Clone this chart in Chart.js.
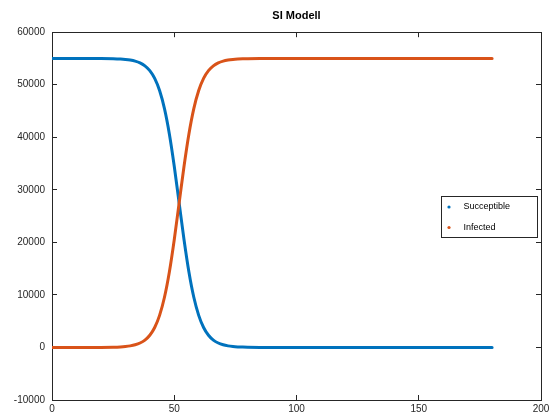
<!DOCTYPE html>
<html>
<head>
<meta charset="utf-8">
<script src="https://cdn.jsdelivr.net/npm/chart.js@4.4.0/dist/chart.umd.min.js"></script>
<style>
    html, body { margin: 0; padding: 0; background: #fff; }
    #wrap { width: 560px; height: 420px; }
</style>
</head>
<body>
<div id="wrap"><canvas id="siChart" width="560" height="420"></canvas></div>
<script>
// values
const days = [0, 10, 20, 25, 28, 30, 32, 34, 36, 38, 40, 42, 44, 46, 48, 50, 52, 54, 56, 58,
    60, 62, 64, 66, 68, 70, 72, 74, 76, 78, 80, 85, 90, 100, 120, 140, 160, 180];
const susceptible = [55000, 54998, 54987, 54951, 54893, 54820, 54698, 54494, 54155, 53593,
    52674, 51197, 48892, 45450, 40636, 34493, 27500, 20507, 14364, 9550,
    6108, 3803, 2326, 1407, 845, 506, 302, 180, 107, 64, 38, 10, 3, 0, 0, 0, 0, 0];
const infected = [0, 2, 13, 49, 107, 180, 302, 506, 845, 1407,
    2326, 3803, 6108, 9550, 14364, 20507, 27500, 34493, 40636, 45450,
    48892, 51197, 52674, 53593, 54155, 54494, 54698, 54820, 54893, 54936, 54962, 54990, 54997,
    55000, 55000, 55000, 55000, 55000];
const seriesNames = ["Succeptible", "Infected"];
const seriesColors = ["#0072BD", "#D95319"];
const xTicks = [0, 50, 100, 150, 200];
const yTicks = [-10000, 0, 10000, 20000, 30000, 40000, 50000, 60000];

const axisColor = "#262626";
const fontFamily = "'Liberation Sans', Arial, Helvetica, sans-serif";

const toPoints = (values) => days.map((d, i) => ({x: d, y: values[i]}));

// legend box drawn inside the axes, "east" location like Octave
const legendBox = {
    id: "legendBox",
    afterDraw(chart) {
        const {ctx, chartArea} = chart;
        const w = 96, h = 41;
        const x = Math.round(chartArea.right - 4 - w) + 0.5;
        const y = Math.round((chartArea.top + chartArea.bottom) / 2 - h / 2) + 0.5;
        ctx.save();
        ctx.fillStyle = "#fff";
        ctx.fillRect(x, y, w, h);
        ctx.strokeStyle = axisColor;
        ctx.lineWidth = 1;
        ctx.strokeRect(x, y, w, h);
        ctx.font = "9px " + fontFamily;
        ctx.textBaseline = "middle";
        chart.data.datasets.forEach((ds, i) => {
            const rowY = y + 10.5 + i * 20.5;
            ctx.fillStyle = ds.borderColor;
            ctx.beginPath();
            ctx.arc(x + 7.5, rowY, 1.6, 0, Math.PI * 2);
            ctx.fill();
            ctx.fillStyle = "#000";
            ctx.fillText(ds.label, x + 22, rowY);
        });
        ctx.restore();
    }
};

const fixedTicks = (list) => (scale) => {
    scale.ticks = list.map(v => ({value: v}));
};

const plainLabel = (value) => String(value);

const innerGrid = {
    drawOnChartArea: false,
    drawTicks: true,
    tickLength: -5,
    color: axisColor,
    lineWidth: 1
};

new Chart(document.getElementById("siChart"), {
    type: "scatter",
    data: {
        datasets: [
            {
                label: seriesNames[0],
                data: toPoints(susceptible),
                borderColor: seriesColors[0],
                backgroundColor: seriesColors[0],
                showLine: true,
                borderWidth: 3,
                borderCapStyle: "round",
                pointRadius: 0,
                cubicInterpolationMode: "monotone",
                order: 1
            },
            {
                label: seriesNames[1],
                data: toPoints(infected),
                borderColor: seriesColors[1],
                backgroundColor: seriesColors[1],
                showLine: true,
                borderWidth: 3,
                borderCapStyle: "round",
                pointRadius: 0,
                cubicInterpolationMode: "monotone",
                order: 0
            }
        ]
    },
    options: {
        responsive: false,
        animation: false,
        devicePixelRatio: 1,
        layout: {padding: {left: 0, right: 19, top: 0, bottom: 0}},
        plugins: {
            legend: {display: false},
            tooltip: {enabled: false},
            title: {
                display: true,
                text: "SI Modell",
                fullSize: false,
                color: "#000",
                font: {family: fontFamily, size: 11, weight: "bold"},
                padding: {top: 9, bottom: 10}
            }
        },
        scales: {
            x: {
                type: "linear",
                position: "bottom",
                min: 0,
                max: 200,
                afterBuildTicks: fixedTicks(xTicks),
                afterFit: (scale) => { scale.height = 20; },
                grid: innerGrid,
                border: {display: true, color: axisColor, width: 1},
                ticks: {color: axisColor, padding: 8, font: {family: fontFamily, size: 10}, callback: plainLabel}
            },
            x2: {
                type: "linear",
                position: "top",
                min: 0,
                max: 200,
                afterBuildTicks: fixedTicks(xTicks),
                afterFit: (scale) => { scale.height = 0; },
                grid: innerGrid,
                border: {display: true, color: axisColor, width: 1},
                ticks: {display: false}
            },
            y: {
                type: "linear",
                position: "left",
                min: -10000,
                max: 60000,
                afterBuildTicks: fixedTicks(yTicks),
                afterFit: (scale) => { scale.width = 52; },
                grid: innerGrid,
                border: {display: true, color: axisColor, width: 1},
                ticks: {color: axisColor, padding: 12, font: {family: fontFamily, size: 10}, callback: plainLabel}
            },
            y2: {
                type: "linear",
                position: "right",
                min: -10000,
                max: 60000,
                afterBuildTicks: fixedTicks(yTicks),
                afterFit: (scale) => { scale.width = 0; },
                grid: innerGrid,
                border: {display: true, color: axisColor, width: 1},
                ticks: {display: false}
            }
        }
    },
    plugins: [legendBox]
});
</script>
</body>
</html>
